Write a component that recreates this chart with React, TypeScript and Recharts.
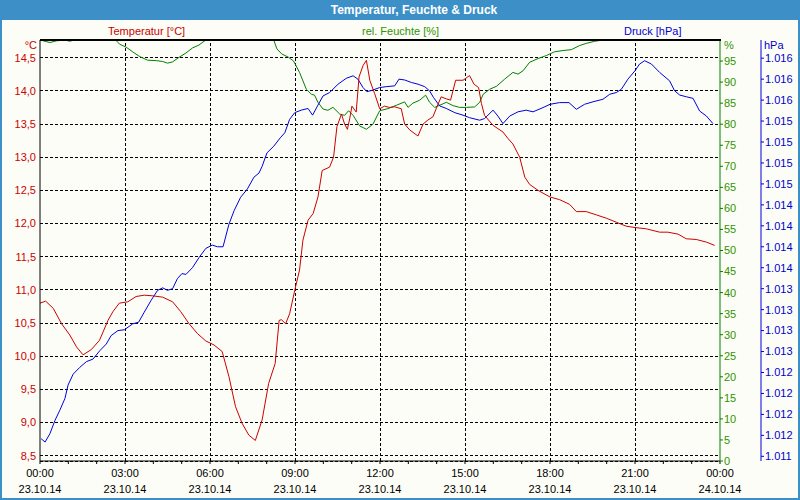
import { LineChart, Line, XAxis, YAxis, CartesianGrid, ReferenceLine } from "recharts"

const RED = "#cc0000"
const GREEN = "#008000"
const GREEN_TEXT = "#2f9400"
const BLUE = "#0000e0"
const BLUE_TEXT = "#0000cc"
const FRAME = "#3d8fc8"
const FONT = "'Liberation Sans', Arial, sans-serif"

// Temperatur [°C]
const tempHours = [
  0, 0.2, 0.47, 0.76, 1.05, 1.29, 1.52, 1.81, 2.1, 2.4, 2.57, 2.8, 3.1, 3.39, 3.68, 3.98,
  4.33, 4.68, 4.97, 5.26, 5.56, 5.85, 6.14, 6.43, 6.67, 6.9, 7.13, 7.37, 7.6, 7.84, 8.07,
  8.3, 8.44, 8.52, 8.67, 8.81, 8.99, 9.16, 9.28, 9.46, 9.64, 9.81, 9.96, 10.22, 10.36,
  10.48, 10.64, 10.75, 10.85, 10.93, 11.01, 11.16, 11.26, 11.4, 11.52, 11.64, 11.81,
  11.99, 12.16, 12.34, 12.52, 12.75, 12.87, 13.05, 13.34, 13.52, 13.69, 13.87, 14.01,
  14.16, 14.34, 14.49, 14.67, 14.93, 15.16, 15.32, 15.48, 15.58, 15.69, 15.99, 16.34,
  16.52, 16.69, 16.93, 17.11, 17.28, 17.58, 18.0, 18.34, 18.69, 18.93, 19.28, 19.64,
  19.99, 20.34, 20.69, 21.0, 21.4, 21.87, 22.16, 22.52, 22.81, 23.16, 23.52, 23.81,
]
const tempValues = [
  10.8, 10.83, 10.72, 10.49, 10.32, 10.14, 10.02, 10.1, 10.24, 10.54, 10.67, 10.8, 10.82,
  10.9, 10.92, 10.91, 10.89, 10.82, 10.67, 10.49, 10.34, 10.23, 10.17, 10.07, 9.69, 9.24,
  8.99, 8.81, 8.73, 9.04, 9.59, 9.89, 10.54, 10.55, 10.49, 10.64, 10.99, 11.3, 11.75,
  12.05, 12.15, 12.4, 12.8, 12.85, 13.0, 13.46, 13.65, 13.5, 13.42, 13.58, 13.77, 13.68,
  14.21, 14.38, 14.46, 14.16, 13.96, 13.73, 13.77, 13.75, 13.76, 13.73, 13.5, 13.41,
  13.32, 13.5, 13.56, 13.61, 13.76, 13.91, 13.88, 13.86, 14.16, 14.16, 14.23, 14.1, 14.05,
  13.81, 13.63, 13.48, 13.38, 13.28, 13.2, 13.0, 12.7, 12.59, 12.5, 12.4, 12.36, 12.29,
  12.18, 12.18, 12.13, 12.08, 12.02, 11.96, 11.94, 11.92, 11.87, 11.87, 11.84, 11.77,
  11.76, 11.72, 11.67,
]

// rel. Feuchte [%]
const humHours = [
  0, 0.35, 0.58, 0.88, 1.05, 1.2, 2.67, 2.81, 3.04, 3.27, 3.51, 3.8, 4.1, 4.33, 4.5, 4.68,
  4.91, 5.15, 5.38, 5.61, 5.85, 8.25, 8.36, 8.53, 8.77, 8.95, 9.16, 9.4, 9.58, 9.69, 9.81,
  9.99, 10.16, 10.34, 10.58, 10.75, 10.89, 11.05, 11.28, 11.52, 11.75, 11.99, 12.28,
  12.58, 12.87, 12.99, 13.16, 13.4, 13.61, 13.75, 13.93, 14.11, 14.34, 14.58, 14.81,
  15.05, 15.34, 15.52, 15.64, 15.87, 16.11, 16.4, 16.69, 16.87, 17.05, 17.28, 17.58,
  17.87, 18.16, 18.46, 18.75, 19.05, 19.28, 19.58, 19.87, 23.81,
]
const humValues = [
  100, 99.4, 99.8, 100, 99.7, 100, 100, 99.0, 98.3, 97.2, 96.1, 95.2, 95.1, 94.9, 94.5,
  94.8, 95.9, 96.9, 98.1, 98.8, 100, 100, 97.9, 96.7, 95.9, 95.0, 92.3, 88.3, 87.1, 86.9,
  85.2, 83.6, 83.3, 84.0, 82.4, 82.1, 83.2, 82.1, 79.6, 78.8, 80.0, 83.2, 83.7, 84.5, 85.3,
  84.0, 85.0, 85.7, 86.9, 85.2, 84.0, 84.5, 85.2, 84.4, 84.0, 84.0, 84.1, 85.2, 87.1, 88.3,
  89.0, 90.7, 92.3, 91.9, 92.7, 94.7, 95.6, 96.3, 97.2, 97.5, 97.7, 98.7, 99.2, 99.7, 100,
  100,
]

// Druck [hPa]
const pressHours = [
  0.04, 0.18, 0.35, 0.53, 0.7, 0.88, 0.99, 1.17, 1.4, 1.64, 1.87, 2.11, 2.34, 2.51, 2.75,
  2.98, 3.27, 3.48, 3.68, 3.92, 4.15, 4.33, 4.5, 4.68, 4.85, 5.01, 5.15, 5.38, 5.61, 5.85,
  6.08, 6.26, 6.46, 6.67, 6.85, 7.08, 7.32, 7.55, 7.73, 7.84, 8.01, 8.25, 8.48, 8.64, 8.81,
  8.99, 9.22, 9.46, 9.62, 9.81, 9.99, 10.22, 10.52, 10.81, 11.05, 11.22, 11.4, 11.54,
  11.75, 11.99, 12.22, 12.52, 12.67, 12.87, 13.11, 13.34, 13.58, 13.75, 13.89, 14.11,
  14.34, 14.64, 14.93, 15.16, 15.52, 15.69, 15.99, 16.16, 16.34, 16.58, 16.87, 17.16,
  17.4, 17.75, 18.0, 18.34, 18.67, 18.93, 19.22, 19.52, 19.87, 20.11, 20.34, 20.52, 20.75,
  21.0, 21.16, 21.34, 21.58, 21.87, 22.22, 22.4, 22.58, 22.81, 23.05, 23.28, 23.52, 23.75,
]
const pressValues = [
  1011.51, 1011.47, 1011.57, 1011.73, 1011.85, 1011.99, 1012.15, 1012.28, 1012.36,
  1012.43, 1012.46, 1012.56, 1012.64, 1012.74, 1012.8, 1012.81, 1012.88, 1012.9, 1013.02,
  1013.16, 1013.28, 1013.31, 1013.28, 1013.3, 1013.42, 1013.48, 1013.47, 1013.55, 1013.67,
  1013.78, 1013.82, 1013.8, 1013.8, 1014.07, 1014.23, 1014.39, 1014.49, 1014.63, 1014.68,
  1014.76, 1014.92, 1015.0, 1015.1, 1015.16, 1015.32, 1015.4, 1015.43, 1015.45, 1015.37,
  1015.49, 1015.6, 1015.64, 1015.74, 1015.81, 1015.84, 1015.8, 1015.7, 1015.65, 1015.67,
  1015.7, 1015.71, 1015.72, 1015.8, 1015.79, 1015.76, 1015.74, 1015.71, 1015.66, 1015.58,
  1015.48, 1015.45, 1015.4, 1015.37, 1015.34, 1015.31, 1015.33, 1015.43, 1015.36, 1015.27,
  1015.36, 1015.41, 1015.43, 1015.41, 1015.46, 1015.5, 1015.52, 1015.52, 1015.44, 1015.5,
  1015.53, 1015.56, 1015.62, 1015.64, 1015.68, 1015.8, 1015.9, 1015.98, 1016.02, 1015.98,
  1015.88, 1015.78, 1015.66, 1015.61, 1015.59, 1015.57, 1015.42, 1015.36, 1015.27,
]

// axes
const hourTicks = [0, 1, 2, 3, 4, 5, 6, 7, 8, 9, 10, 11, 12, 13, 14, 15, 16, 17, 18, 19, 20, 21, 22, 23, 24]
const gridHours = [3, 6, 9, 12, 15, 18, 21]
const timeLabels = ["00:00", "03:00", "06:00", "09:00", "12:00", "15:00", "18:00", "21:00", "00:00"]
const dateLabels = ["23.10.14", "23.10.14", "23.10.14", "23.10.14", "23.10.14", "23.10.14", "23.10.14", "23.10.14", "24.10.14"]
const tempTicks = [8.5, 9, 9.5, 10, 10.5, 11, 11.5, 12, 12.5, 13, 13.5, 14, 14.5]
const humTicks = [0, 5, 10, 15, 20, 25, 30, 35, 40, 45, 50, 55, 60, 65, 70, 75, 80, 85, 90, 95]
const pressTicks = [
  1011.3, 1011.55, 1011.8, 1012.05, 1012.3, 1012.55, 1012.8, 1013.05, 1013.3, 1013.55,
  1013.8, 1014.05, 1014.3, 1014.55, 1014.8, 1015.05, 1015.3, 1015.55, 1015.8, 1016.05,
]

const tempData = tempHours.map((h, i) => ({ h, v: tempValues[i] }))
const humData = humHours.map((h, i) => ({ h, v: humValues[i] }))
const pressData = pressHours.map((h, i) => ({ h, v: pressValues[i] }))

const fmtTemp = (v: number) => v.toFixed(1).replace(".", ",")
const fmtPress = (v: number) => {
  const r = Math.round(v)
  return `${Math.floor(r / 1000)}.${String(r % 1000).padStart(3, "0")}`
}

function TimeTick({ x, y, payload }: any) {
  const h = payload.value
  if (h % 3 !== 0) return <g />
  const i = h / 3
  return (
    <g fontFamily={FONT} fontSize={11} fill="#000">
      <text x={x} y={y + 11} textAnchor="middle">{timeLabels[i]}</text>
      <text x={x} y={y + 27} textAnchor="middle">{dateLabels[i]}</text>
    </g>
  )
}

const label = (text: string, color: string, style: React.CSSProperties) => (
  <span style={{ position: "absolute", color, fontSize: 11, fontFamily: FONT, lineHeight: "12px", whiteSpace: "nowrap", ...style }}>
    {text}
  </span>
)

export default function App() {
  return (
    <div style={{ position: "absolute", left: 0, top: 0, width: 800, height: 500, background: "#fdfdf7", overflow: "hidden" }}>
      <LineChart width={800} height={500} margin={{ top: 40, right: 0, bottom: 0, left: 0 }}>
        <CartesianGrid xAxisId="x" yAxisId="temp" vertical={false} stroke="#000" strokeDasharray="3 2" shapeRendering="crispEdges" />
        <XAxis
          xAxisId="x"
          type="number"
          dataKey="h"
          domain={[0, 24]}
          ticks={hourTicks}
          interval={0}
          height={39}
          axisLine={{ stroke: "#000" }}
          tickLine={{ stroke: "#000" }}
          tickSize={3}
          tickMargin={2}
          tick={<TimeTick />}
        />
        <XAxis xAxisId="top" orientation="top" type="number" dataKey="h" domain={[0, 24]} height={0} tick={false} tickLine={false} axisLine={{ stroke: "#000" }} />
        <YAxis
          yAxisId="temp"
          orientation="left"
          width={40}
          type="number"
          domain={[8.42, 14.767]}
          allowDataOverflow
          ticks={tempTicks}
          interval={0}
          tickFormatter={fmtTemp}
          axisLine={{ stroke: "#000" }}
          tickLine={false}
          tickSize={2}
          tickMargin={2}
          tick={{ fill: RED, fontSize: 11, fontFamily: FONT }}
        />
        <YAxis
          yAxisId="hum"
          orientation="right"
          width={41}
          type="number"
          domain={[0, 100]}
          allowDataOverflow
          ticks={humTicks}
          interval={0}
          axisLine={{ stroke: GREEN }}
          tickLine={{ stroke: GREEN }}
          tickSize={3}
          tickMargin={1}
          tick={{ fill: GREEN_TEXT, fontSize: 11, fontFamily: FONT, textAnchor: "start" }}
        />
        <YAxis
          yAxisId="press"
          orientation="right"
          width={39}
          type="number"
          domain={[1011.244, 1016.267]}
          allowDataOverflow
          ticks={pressTicks}
          interval={0}
          tickFormatter={fmtPress}
          axisLine={{ stroke: BLUE }}
          tickLine={{ stroke: BLUE }}
          tickSize={3}
          tickMargin={1}
          tick={{ fill: BLUE_TEXT, fontSize: 11, fontFamily: FONT, textAnchor: "start" }}
        />
        {gridHours.map((h) => (
          <ReferenceLine key={h} x={h} xAxisId="x" yAxisId="temp" stroke="#000" strokeDasharray="3 2" shapeRendering="crispEdges" />
        ))}
        <Line data={humData} dataKey="v" xAxisId="x" yAxisId="hum" type="linear" stroke={GREEN} strokeWidth={1} dot={false} isAnimationActive={false} />
        <Line data={pressData} dataKey="v" xAxisId="x" yAxisId="press" type="linear" stroke={BLUE} strokeWidth={1} dot={false} isAnimationActive={false} />
        <Line data={tempData} dataKey="v" xAxisId="x" yAxisId="temp" type="linear" stroke={RED} strokeWidth={1} dot={false} isAnimationActive={false} />
      </LineChart>

      {/* plot frame top edge, drawn over the humidity line that sits at 100 % */}
      <div style={{ position: "absolute", left: 40, top: 39, width: 681, height: 2, background: "#000" }} />

      <div style={{ position: "absolute", left: 0, top: 0, width: 800, height: 20, paddingLeft: 28, boxSizing: "border-box", background: FRAME, color: "#fff", fontFamily: FONT, fontWeight: "bold", fontSize: 12, lineHeight: "20px", textAlign: "center" }}>
        Temperatur, Feuchte &amp; Druck
      </div>
      <div style={{ position: "absolute", left: 0, top: 0, width: 800, height: 500, boxSizing: "border-box", borderLeft: `2px solid ${FRAME}`, borderRight: `2px solid ${FRAME}`, borderBottom: `2px solid ${FRAME}`, pointerEvents: "none" }} />

      {label("Temperatur [°C]", RED, { left: 108, top: 25 })}
      {label("rel. Feuchte [%]", GREEN_TEXT, { left: 362, top: 25 })}
      {label("Druck [hPa]", BLUE_TEXT, { left: 624, top: 25 })}
      {label("°C", RED, { right: 800 - 37, top: 39 })}
      {label("%", GREEN_TEXT, { left: 724, top: 39 })}
      {label("hPa", BLUE_TEXT, { left: 764, top: 39 })}
    </div>
  )
}
